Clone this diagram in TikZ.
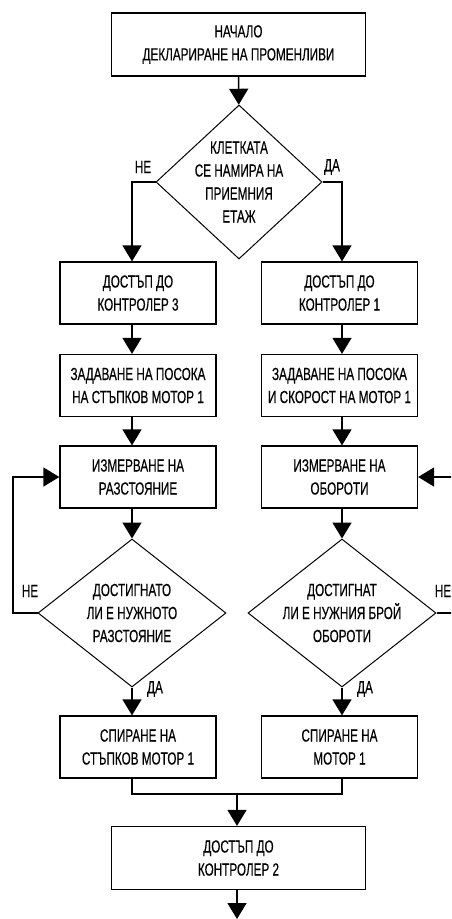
\documentclass[tikz,border=0pt]{standalone}
\usepackage{fontspec}
\setmainfont[FakeStretch=0.67,FakeBold=0.4]{Liberation Sans}
\usetikzlibrary{shapes.geometric,arrows.meta}

\newcommand{\chartfont}{\fontsize{17.5}{23}\selectfont}

\tikzset{
  block/.style={draw, line width=1.3pt, minimum width=156pt, minimum height=62pt,
    align=center, inner sep=0pt},
  wideblock/.style={block, minimum width=254pt, minimum height=63pt},
  decision/.style={diamond, draw, line width=1pt, inner sep=0pt,
    label={[align=center]center:#1}},
  answer/.style={inner sep=0pt},
  line/.style={line width=1.6pt},
  arrow/.style={line, -{Triangle[width=19pt,length=16pt]}},
}

\begin{document}
\begin{tikzpicture}[x=1pt,y=-1pt, every node/.style={font=\chartfont}]

      \path[use as bounding box, clip] (0,0) rectangle (451,919);

      % start and first question
      \node[wideblock] (start) at (238.5,44.5) {НАЧАЛО\\ДЕКЛАРИРАНЕ НА ПРОМЕНЛИВИ};
      \node[decision={КЛЕТКАТА\\СЕ НАМИРА НА\\ПРИЕМНИЯ\\ЕТАЖ},
            minimum width=166pt, minimum height=154pt] (q1) at (239,182) {};

      % left column
      \node[block] (ctrl3)  at (138,293)   {ДОСТЪП ДО\\КОНТРОЛЕР 3};
      \node[block] (dir3)   at (138,385.5) {ЗАДАВАНЕ НА ПОСОКА\\НА СТЪПКОВ МОТОР 1};
      \node[block] (dist)   at (138,477)   {ИЗМЕРВАНЕ НА\\РАЗСТОЯНИЕ};
      \node[decision={ДОСТИГНАТО\\ЛИ Е НУЖНОТО\\РАЗСТОЯНИЕ},
            minimum width=188pt, minimum height=148pt] (q2) at (132,613) {};
      \node[block] (stop3)  at (138,747)   {СПИРАНЕ НА\\СТЪПКОВ МОТОР 1};

      % right column
      \node[block] (ctrl1)  at (339.5,293)   {ДОСТЪП ДО\\КОНТРОЛЕР 1};
      \node[block] (dir1)   at (339.5,385.5) {ЗАДАВАНЕ НА ПОСОКА\\И СКОРОСТ НА МОТОР 1};
      \node[block] (revs)   at (339.5,477)   {ИЗМЕРВАНЕ НА\\ОБОРОТИ};
      \node[decision={ДОСТИГНАТ\\ЛИ Е НУЖНИЯ БРОЙ\\ОБОРОТИ},
            minimum width=188pt, minimum height=148pt] (q3) at (342,613) {};
      \node[block] (stop1)  at (339.5,747)   {СПИРАНЕ НА\\МОТОР 1};

      % end
      \node[wideblock] (ctrl2) at (238.5,858) {ДОСТЪП ДО\\КОНТРОЛЕР 2};
      \coordinate (join) at (237,794);
      \coordinate (out) at (237,919);

      % answers
      \node[answer] (no1)  at (143,167) {НЕ};
      \node[answer] (yes1) at (332,167) {ДА};
      \node[answer] (no2)  at (30,591)  {НЕ};
      \node[answer] (yes2) at (155,689) {ДА};
      \node[answer] (no3)  at (443,591) {НЕ};
      \node[answer] (yes3) at (365,689) {ДА};

      % connectors
      \draw[arrow] (start) -- (q1);
      \draw[arrow] (q1.west) -| (ctrl3.north -| q2);
      \draw[arrow] (q1.east) -| (ctrl1.north -| q3);

      \draw[arrow] (ctrl3.south -| q2) -- (dir3.north -| q2);
      \draw[arrow] (dir3.south -| q2) -- (dist.north -| q2);
      \draw[arrow] (dist.south -| q2) -- (q2.north);
      \draw[arrow] (q2.south) -- (stop3.north -| q2);
      \draw[arrow] (q2.west) -- ++(-24.5,0) |- (dist.west);

      \draw[arrow] (ctrl1.south -| q3) -- (dir1.north -| q3);
      \draw[arrow] (dir1.south -| q3) -- (revs.north -| q3);
      \draw[arrow] (revs.south -| q3) -- (q3.north);
      \draw[arrow] (q3.south) -- (stop1.north -| q3);
      \draw[arrow] (q3.east) -- ++(30,0) |- (revs.east);

      \draw[line] (stop3.south -| q2) |- (join) -| (stop1.south -| q3);
      \draw[arrow] (join) -- (join |- ctrl2.north);
      \draw[arrow] (join |- ctrl2.south) -- (out);

    \end{tikzpicture}
\end{document}
